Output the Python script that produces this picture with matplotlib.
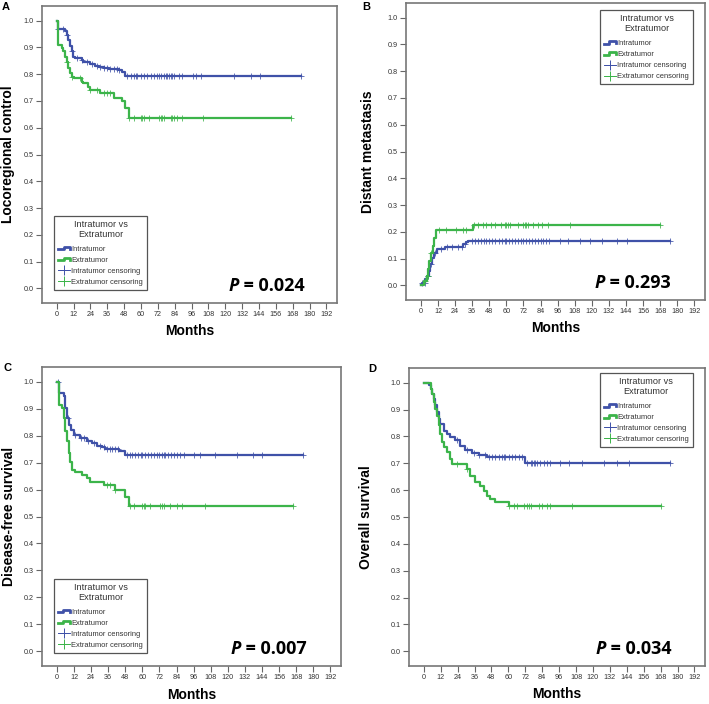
import numpy as np
import matplotlib
matplotlib.use("Agg")
from matplotlib import pyplot as plt
from matplotlib.lines import Line2D
from matplotlib.legend_handler import HandlerBase

plt.rcParams['font.family'] = ['Liberation Sans', 'DejaVu Sans']

BLUE = '#3f51a8'
GREEN = '#3cb44a'

# ---- data (months, probability) ----
# A: locoregional control
A_intra_t = [0, 1.2, 5.9, 7.2, 8.3, 9.5, 10.7, 11.9, 13.1, 17.9, 19.0, 23.8, 27.4, 29.8, 33.4, 36.9, 44.1, 46.5, 48.9]
A_intra_s = [1.0, 0.970, 0.960, 0.947, 0.929, 0.904, 0.885, 0.866, 0.860, 0.854, 0.847, 0.838, 0.832, 0.826, 0.823, 0.819, 0.815, 0.808, 0.795]
A_intra_end = 174
A_intra_cens = [1.2, 4.8, 7.2, 10.7, 14.3, 17.9, 21.5, 25.1, 28.6, 31, 33.4, 35.8, 38.2, 40.6, 43, 44.2, 50.1, 52.5,
                54.9, 56.1, 57.3, 59.7, 62.1, 64.4, 66.8, 69.2, 71.6, 72.8, 74, 76.4, 77.6, 78.8, 80, 81.1, 82.3, 83.5,
                87.1, 89.5, 96.7, 99, 102.6, 126.5, 138.4, 144.4, 174]
A_extra_t = [0, 1.2, 3.6, 4.8, 5.9, 7.2, 8.3, 9.5, 10.7, 12.4, 17.9, 19.0, 22.6, 23.8, 31.0, 40.6, 46.5, 48.9, 51.3]
A_extra_s = [1.0, 0.910, 0.897, 0.885, 0.866, 0.847, 0.823, 0.804, 0.791, 0.785, 0.772, 0.766, 0.754, 0.741, 0.729, 0.710, 0.700, 0.673, 0.637]
A_extra_end = 167
A_extra_cens = [7.2, 10.7, 16.7, 23.9, 28.6, 33.4, 35.8, 38.2, 51.3, 54.9, 59.7, 60.9, 62.1, 65.6, 72.8, 74, 75.2,
                76.4, 81.1, 82.3, 83.5, 85.9, 89.5, 103.8, 167]

# B: distant metastasis (cumulative)
B_intra_t = [0, 0.8, 3.1, 4.3, 5.5, 6.6, 7.8, 9.4, 11.3, 17.1, 29.2, 31.5, 33.2]
B_intra_s = [0.0, 0.010, 0.022, 0.035, 0.054, 0.078, 0.103, 0.121, 0.134, 0.144, 0.153, 0.160, 0.167]
B_intra_end = 175
B_intra_cens = [1, 3, 5, 7, 10, 14, 18, 22, 26, 29, 31, 36, 38, 40, 42, 44, 46, 48, 50, 52, 55, 57, 59, 60, 62, 64,
                66, 68, 70, 72, 74, 76, 78, 80, 82, 84, 86, 88, 90, 97.6, 103.5, 111.8, 118.8, 127, 137.6, 144.7, 175]
B_extra_t = [0, 2.3, 4.2, 5.1, 5.9, 7.0, 8.2, 9.4, 10.5, 36.3]
B_extra_s = [0.0, 0.016, 0.035, 0.059, 0.090, 0.121, 0.146, 0.177, 0.207, 0.226]
B_extra_end = 168
B_extra_cens = [3, 5, 7, 12.9, 17.6, 24.7, 29.4, 31.8, 37.6, 40, 43.5, 45.9, 49.4, 51.8, 56.5, 58.8, 60, 61.2, 62.4,
                68.2, 71.8, 72.9, 74.1, 75.3, 78.8, 82.4, 84.7, 89.4, 104.7, 168]

# C: disease-free survival
C_intra_t = [0, 1.2, 4.7, 5.9, 7.0, 8.2, 9.8, 11.7, 16.4, 21.1, 24.6, 28.1, 31.6, 34.0, 43.4, 48.0]
C_intra_s = [1.0, 0.959, 0.946, 0.903, 0.866, 0.841, 0.822, 0.803, 0.791, 0.779, 0.772, 0.763, 0.759, 0.751, 0.743, 0.728]
C_intra_end = 173
C_intra_cens = [1, 8, 13, 17, 19, 22, 26, 30, 33, 35, 37, 39, 41, 43, 49, 51, 53, 55, 57, 59, 60, 62, 64, 66, 68, 70,
                72, 74, 75, 76, 78, 80, 82, 84, 86.7, 89, 96, 100.7, 111, 126.5, 138, 144, 173]
C_extra_t = [0, 1.2, 3.5, 4.7, 5.9, 7.0, 8.2, 9.4, 10.5, 12.9, 17.6, 21.1, 23.4, 32.8, 41.0, 48.0, 50.3]
C_extra_s = [1.0, 0.915, 0.903, 0.866, 0.816, 0.779, 0.735, 0.704, 0.673, 0.664, 0.654, 0.642, 0.627, 0.617, 0.598, 0.573, 0.538]
C_extra_end = 166
C_extra_cens = [35.1, 37.5, 41, 51.5, 53.9, 59.7, 60.9, 62.1, 65.6, 72.6, 73.8, 74.9, 79.6, 84.3, 87.8, 104.2, 166]

# D: overall survival
D_intra_t = [0, 3.6, 4.8, 6.0, 7.1, 8.3, 9.5, 10.7, 11.8, 14.2, 16.5, 18.9, 22.4, 26.0, 29.5, 34.3, 39.0, 44.9, 72.0]
D_intra_s = [1.0, 0.990, 0.978, 0.959, 0.940, 0.916, 0.891, 0.866, 0.847, 0.822, 0.810, 0.797, 0.785, 0.766, 0.751,
             0.739, 0.731, 0.722, 0.703]
D_intra_end = 175
D_intra_cens = [23.6, 30.7, 35.5, 39, 43.7, 46.1, 48.5, 50.8, 53.2, 55.6, 56.7, 57.9, 60.3, 62.6, 65, 67.4, 69.7, 73.3,
                75.7, 76.8, 78, 79.2, 80.4, 82.7, 85.1, 87.5, 89.8, 96.9, 102.8, 112.3, 127.7, 137.1, 145.4, 175]
D_extra_t = [0, 4.8, 6.0, 7.1, 8.3, 9.5, 10.7, 11.8, 13.0, 14.2, 16.5, 18.9, 20.1, 30.7, 33.1, 36.6, 40.2, 42.5, 44.9,
             47.3, 50.8, 60.3]
D_extra_s = [1.0, 0.978, 0.959, 0.928, 0.903, 0.878, 0.841, 0.810, 0.779, 0.760, 0.741, 0.716, 0.698, 0.679, 0.654,
             0.629, 0.617, 0.598, 0.579, 0.567, 0.557, 0.541]
D_extra_end = 168
D_extra_cens = [23.6, 30.7, 60.3, 63.8, 66.2, 70.9, 73.3, 74.5, 75.7, 81.6, 83.9, 87.5, 89.8, 105.2, 168]

ylabels = ['Locoregional control', 'Distant metastasis', 'Disease-free survival', 'Overall survival']
pvalues = ['0.024', '0.293', '0.007', '0.034']
letters = ['A', 'B', 'C', 'D']
xticks = np.arange(0, 193, 12)
yticks = np.arange(0, 1.01, 0.1)

panels = [
    (A_intra_t, A_intra_s, A_intra_end, A_intra_cens, A_extra_t, A_extra_s, A_extra_end, A_extra_cens),
    (B_intra_t, B_intra_s, B_intra_end, B_intra_cens, B_extra_t, B_extra_s, B_extra_end, B_extra_cens),
    (C_intra_t, C_intra_s, C_intra_end, C_intra_cens, C_extra_t, C_extra_s, C_extra_end, C_extra_cens),
    (D_intra_t, D_intra_s, D_intra_end, D_intra_cens, D_extra_t, D_extra_s, D_extra_end, D_extra_cens),
]

# layout in pixels: left, top, right, bottom
W, H = 709, 704
boxes = [(42, 6, 337, 303), (406, 3, 705, 300), (42, 367, 341, 666), (409, 368, 705, 666)]
letter_pos = [(6, 7), (366, 7), (7, 368), (372, 369)]
ylabel_x = [-0.093, -0.104, -0.088, -0.12]
legend_loc = [('lower left', (0.041, 0.044)), ('upper right', (0.960, 0.976)),
              ('lower left', (0.040, 0.043)), ('upper right', (0.959, 0.983))]


class StepHandler(HandlerBase):
    def create_artists(self, legend, orig_handle, xdescent, ydescent, width, height, fontsize, trans):
        x0 = -xdescent
        y0 = -ydescent
        xs = [x0, x0 + 0.45 * width, x0 + 0.45 * width, x0 + width, x0 + width]
        ys = [y0 + 0.3 * height, y0 + 0.3 * height, y0 + 0.8 * height, y0 + 0.8 * height, y0 + 0.35 * height]
        line = Line2D(xs, ys, color=orig_handle.get_color(), lw=orig_handle.get_linewidth())
        line.set_transform(trans)
        return [line]


def km(ax, t, s, end, cens, color):
    t = np.asarray(t, float)
    s = np.asarray(s, float)
    ax.step(np.append(t, end), np.append(s, s[-1]), where='post', color=color, lw=1.6)
    c = np.asarray(cens, float)
    cy = s[np.searchsorted(t, c, side='right') - 1]
    ax.plot(c, cy, ls='none', marker='+', ms=4, mew=0.7, color=color, alpha=0.8)


fig = plt.figure(figsize=(W / 100, H / 100), dpi=100)

for i, p in enumerate(panels):
    l, t, r, b = boxes[i]
    ax = fig.add_axes([l / W, 1 - b / H, (r - l) / W, (b - t) / H])
    km(ax, p[0], p[1], p[2], p[3], BLUE)
    km(ax, p[4], p[5], p[6], p[7], GREEN)

    ax.set_xlim(-10.5, 199.5)
    ax.set_ylim(-0.055, 1.055)
    ax.set_xticks(xticks)
    ax.set_yticks(yticks)
    ax.set_yticklabels(['%.1f' % v for v in yticks])
    ax.tick_params(direction='out', length=4, width=0.8, color='#666', labelcolor='#333', labelsize=5.2, pad=2)
    for sp in ax.spines.values():
        sp.set_color('#777')
        sp.set_linewidth(1.2)

    ax.set_xlabel('Months', fontsize=10, fontweight='bold')
    ax.xaxis.set_label_coords(0.5, -0.072)
    ax.set_ylabel(ylabels[i], fontsize=10, fontweight='bold')
    ax.yaxis.set_label_coords(ylabel_x[i], 0.5)

    tp = ax.text(122, -0.012, 'P', fontsize=13, fontweight='bold', style='italic',
                 family='Open Sans', va='baseline', ha='left')
    ax.annotate(' = ' + pvalues[i], xy=(1, 0), xycoords=tp, va='bottom', ha='left',
                fontsize=13, fontweight='bold', family='Open Sans')

    handles = [Line2D([], [], color=BLUE, lw=2), Line2D([], [], color=GREEN, lw=2),
               Line2D([], [], color=BLUE, lw=0.7, marker='+', ms=7, mew=0.7),
               Line2D([], [], color=GREEN, lw=0.7, marker='+', ms=7, mew=0.7)]
    labels = ['Intratumor', 'Extratumor', 'Intratumor censoring', 'Extratumor censoring']
    loc, anchor = legend_loc[i]
    leg = ax.legend(handles, labels, title='Intratumor vs\nExtratumor', loc=loc, bbox_to_anchor=anchor,
                    handler_map={handles[0]: StepHandler(), handles[1]: StepHandler()},
                    fontsize=5.4, title_fontsize=6.6, fancybox=False, framealpha=1, edgecolor='#555',
                    borderpad=0.55, handlelength=1.6, handletextpad=0.15, labelspacing=0.5,
                    borderaxespad=0)
    leg.get_frame().set_linewidth(0.9)
    leg.get_title().set_color('#333')
    leg.get_title().set_multialignment('center')
    leg.get_title().set_linespacing(1.1)
    leg._legend_box.sep = 5
    for txt in leg.get_texts():
        txt.set_color('#333')

    fig.text(letter_pos[i][0] / W, 1 - letter_pos[i][1] / H, letters[i], ha='center', va='center',
             fontsize=8, fontweight='bold')

fig.savefig('out.png', dpi=100)
